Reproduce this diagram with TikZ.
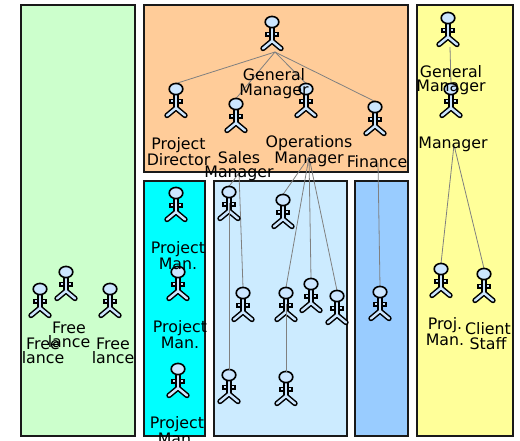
\documentclass[tikz,border=0pt]{standalone}
\usepackage{fontspec}
\setmainfont{DejaVu Sans}
\definecolor{skin}{HTML}{CCE6FF}
\tikzset{
  x=1pt,y=-1pt,
  zone/.style={draw=black!90,line width=1.8pt},
  actorbox/.style={inner sep=0pt,outer sep=0pt,minimum width=19pt,minimum height=33pt},
  lbl/.style={inner sep=0pt,outer sep=0pt,align=center,text=black,font=\fontsize{15.8}{14.5}\selectfont},
  link/.style={draw=black!50,line width=0.8pt},
  actor/.pic={
    % origin is the head top
    \fill[black] (-7,15) rectangle (7,20.2);
    \fill[skin] (-5.3,16.5) rectangle (5.3,18.7);
    \draw[black,line width=5.4pt,line cap=round,line join=miter] (-9,32) -- (0,24.5) -- (9,32);
    \draw[black,line width=5.4pt] (0,9) -- (0,24.5);
    \draw[skin,line width=2.4pt,line cap=round,line join=miter] (-9,32) -- (0,24.5) -- (9,32);
    \draw[skin,line width=2.4pt] (0,9) -- (0,24.5);
    \filldraw[fill=skin,draw=black,line width=1.6pt] (0,5.5) ellipse (6.8 and 5.6);
  }
}
\newcommand{\person}[3]{\node[actorbox] (#1) at (#2,#3+11) {};}
\begin{document}
\begin{tikzpicture}
\useasboundingbox (0,0) rectangle (520,440);
\clip (0,0) rectangle (520,440);
% zones
\draw[zone,fill={rgb,255:red,204;green,255;blue,204}] (21,5) rectangle (135,436);
\draw[zone,fill={rgb,255:red,255;green,204;blue,153}] (144,5) rectangle (408,172);
\draw[zone,fill={rgb,255:red,0;green,255;blue,255}] (144,181) rectangle (205,436);
\draw[zone,fill={rgb,255:red,204;green,235;blue,255}] (214,181) rectangle (347,436);
\draw[zone,fill={rgb,255:red,153;green,204;blue,255}] (355,181) rectangle (408,436);
\draw[zone,fill={rgb,255:red,255;green,255;blue,153}] (417,5) rectangle (513,436);
% actors (placeholders)
\person{gm}{272}{22}
\person{pd}{176}{89}
\person{sm}{236}{104}
\person{om}{306}{89}
\person{fi}{375}{107}
\person{pma}{176}{193}
\person{pmb}{178}{272}
\person{pmc}{178}{369}
\person{sa}{229}{192}
\person{oa}{283}{200}
\person{sb}{243}{293}
\person{ob}{286}{293}
\person{oc}{311}{284}
\person{od}{337}{296}
\person{se}{229}{375}
\person{oe}{286}{377}
\person{fa}{380}{292}
\person{yg}{448}{18}
\person{ym}{451}{89}
\person{yp}{441}{269}
\person{yc}{484}{274}
\person{fra}{40}{289}
\person{frb}{66}{272}
\person{frc}{110}{289}
% free connector ends
\coordinate (gmsrc) at (275,52);
\coordinate (omsrc) at (309,157);
\coordinate (smsrc) at (239,173);
\coordinate (fisrc) at (378,163);
\coordinate (ygsrc) at (450,47);
\coordinate (ymsrc) at (454,145);
% connectors
\foreach \t in {pd,sm,om,fi} \draw[link] (gmsrc) -- (\t.north);
\foreach \t in {oa,ob,oc,od} \draw[link] (omsrc) -- (\t.north);
\draw[link] (smsrc) -- (sa.north);
\draw[link] (smsrc) -- (sb.north);
\draw[link] (fisrc) -- (fa.north);
\draw[link] (ygsrc) -- (ym.north);
\draw[link] (ymsrc) -- (yp.north);
\draw[link] (ymsrc) -- (yc.north);
% figures
\foreach \n in {gm,pd,sm,om,fi,pma,pmb,pmc,sa,oa,sb,ob,oc,od,se,oe,fa,yg,ym,yp,yc,fra,frb,frc}
  \pic at (\n.north) {actor};
% lines that show over a figure
\draw[link] (sa.center) -- (se.north);
\draw[link] (ob.center) -- (oe.north);
% labels
\node[lbl] (gmt) at (274,83.5) {General\\Manager};
\node[lbl] (pdt) at (178.5,151.5) {Project\\Director};
\node[lbl] (smt) at (239,166) {Sales\\Manager};
\node[lbl] (omt) at (309,151.5) {Operations\\Manager};
\node[lbl] (fit) at (377,161.5) {Finance};
\node[lbl] (pmat) at (178,255.5) {Project\\Man.};
\node[lbl] (pmbt) at (180,334.5) {Project\\Man.};
\node[lbl] (pmct) at (177,430.5) {Project\\Man.};
\node[lbl] (ygt) at (451,80) {General\\Manager};
\node[lbl] (ymt) at (453,144) {Manager};
\node[lbl] (ypt) at (445,331.5) {Proj.\\Man.};
\node[lbl] (yct) at (488,336) {Client\\Staff};
\node[lbl] (frat) at (43,351) {Free\\lance};
\node[lbl] (frbt) at (69,335) {Free\\lance};
\node[lbl] (frct) at (113,351) {Free\\lance};
\end{tikzpicture}
\end{document}
